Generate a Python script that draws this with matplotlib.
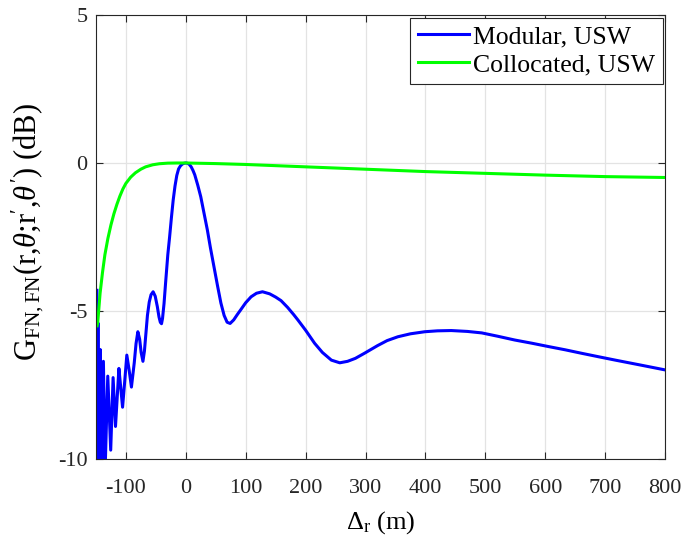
import matplotlib
matplotlib.use("Agg")
import matplotlib.pyplot as plt

plt.rcParams['font.family'] = ['Liberation Serif', 'DejaVu Serif']
plt.rcParams['mathtext.fontset'] = 'custom'
plt.rcParams['mathtext.rm'] = 'Liberation Serif'
plt.rcParams['mathtext.it'] = 'Liberation Serif:italic'
plt.rcParams['mathtext.bf'] = 'Liberation Serif:bold'

# Range offset (m) and gain (dB) for the modular array
modular_x = [-148.3, -147.6, -146.6, -145.0, -142.8, -140.5, -137.5, -134.5, -130.2,
             -125.3, -121.3, -117.3, -111.6, -108.5, -105.5, -102.0, -98.4, -94.5,
             -90.7, -86.0, -83.0, -80.0, -77.0, -74.5, -71.5, -69.0, -66.5, -64.0,
             -61.0, -58.0, -54.5, -51.0, -47.5, -44.7, -42.5, -40.5, -38.8, -36.3,
             -33.5, -30.0, -27.0, -24.0, -21.0, -18.0, -15.0, -12.0, -9.0, -6.0,
             -3.0, 0.0, 3.0, 6.0, 9.0, 12.0, 15.0, 20.0, 25.0, 30.0, 36.0, 41.0,
             47.0, 53.0, 58.6, 64.0, 69.0, 74.0, 80.0, 86.0, 92.0, 100.0, 109.0,
             118.0, 128.0, 140.0, 150.0, 159.0, 170.0, 180.0, 187.0, 200.0, 215.0,
             228.0, 243.0, 257.0, 270.0, 283.0, 298.0, 320.0, 336.0, 354.0, 375.0,
             399.0, 420.0, 443.0, 470.0, 494.0, 520.0, 549.0, 578.0, 605.0, 633.0,
             661.0, 690.0, 717.0, 760.0, 800.0]
modular_db = [-4.3, -8.7, -5.4, -10.8, -6.3, -10.9, -6.7, -10.3, -7.2,
              -9.7, -7.25, -8.9, -6.94, -7.6, -8.25, -7.4, -6.49, -7.0,
              -7.57, -6.75, -6.1, -5.7, -5.95, -6.4, -6.7, -6.35, -5.75, -5.15,
              -4.7, -4.45, -4.35, -4.5, -4.85, -5.2, -5.38, -5.43, -5.25, -4.75,
              -4.0, -3.1, -2.5, -1.85, -1.25, -0.78, -0.42, -0.2, -0.1, -0.04,
              -0.01, 0.0, -0.01, -0.05, -0.13, -0.25, -0.4, -0.75, -1.14, -1.65,
              -2.26, -2.85, -3.5, -4.15, -4.73, -5.15, -5.38, -5.42, -5.3, -5.12,
              -4.95, -4.72, -4.52, -4.4, -4.35, -4.42, -4.53, -4.65, -4.88, -5.12,
              -5.3, -5.65, -6.09, -6.4, -6.66, -6.75, -6.7, -6.6, -6.43, -6.17,
              -6.0, -5.87, -5.77, -5.7, -5.67, -5.66, -5.69, -5.74, -5.85, -5.98,
              -6.09, -6.2, -6.31, -6.43, -6.55, -6.66, -6.83, -6.99]

# Range offset (m) and gain (dB) for the collocated array
colloc_x = [-148, -147, -143, -139, -135, -130, -125, -120, -115, -110, -105, -100,
            -92, -84, -75, -67, -55, -44, -30, -15, 0, 50, 100, 150, 200, 300, 400,
            500, 600, 700, 800]
colloc_db = [-5.5, -5.4, -4.4, -3.7, -3.1, -2.55, -2.1, -1.72, -1.4, -1.12, -0.88,
             -0.69, -0.48, -0.33, -0.21, -0.13, -0.06, -0.025, -0.005, 0.0, 0.0,
             -0.02, -0.05, -0.09, -0.13, -0.21, -0.29, -0.35, -0.41, -0.46, -0.49]

x_ticks = [-100, 0, 100, 200, 300, 400, 500, 600, 700, 800]
y_ticks = [-10, -5, 0, 5]

fig = plt.figure(figsize=(6.85, 5.39), dpi=100)
ax = fig.add_axes([0.140, 0.1484, 0.831, 0.8238])

ax.plot(modular_x, modular_db, color=(0, 0, 1), lw=2.2, label='Modular, USW')
ax.plot(colloc_x, colloc_db, color=(0, 1, 0), lw=2.2, label='Collocated, USW')

ax.set_xlim(-150, 800)
ax.set_ylim(-10, 5)
ax.set_xticks(x_ticks)
ax.set_yticks(y_ticks)
ax.set_xticklabels([str(t) for t in x_ticks])
ax.set_yticklabels([str(t) for t in y_ticks])

ax.grid(True, color='#e3e3e3', lw=0.9)
ax.set_axisbelow(True)
for s in ax.spines.values():
    s.set_color('#262626')
    s.set_linewidth(0.8)
ax.tick_params(direction='in', top=True, right=True, length=5, width=0.8,
               color='#262626', labelsize=16, labelcolor='#262626')
ax.tick_params(axis='x', pad=14.5)
ax.tick_params(axis='y', pad=6)

ax.set_xlabel(r'$\Delta_{\rm r}$ (m)', fontsize=19, labelpad=8)
ax.set_ylabel(r'G$_{\rm FN,FN}$(r,$\theta$;r$^\prime$,$\theta^\prime$) (dB)',
              fontsize=22)
ax.yaxis.set_label_coords(-0.088, 0.51)

leg = ax.legend(loc='upper right', fontsize=18.5, fancybox=False, framealpha=1,
                edgecolor='#262626', borderaxespad=0.1, handlelength=2.0,
                handletextpad=0.15, borderpad=0.3, labelspacing=0.2)
leg.get_frame().set_linewidth(0.8)

fig.savefig('out.png', dpi=100)
